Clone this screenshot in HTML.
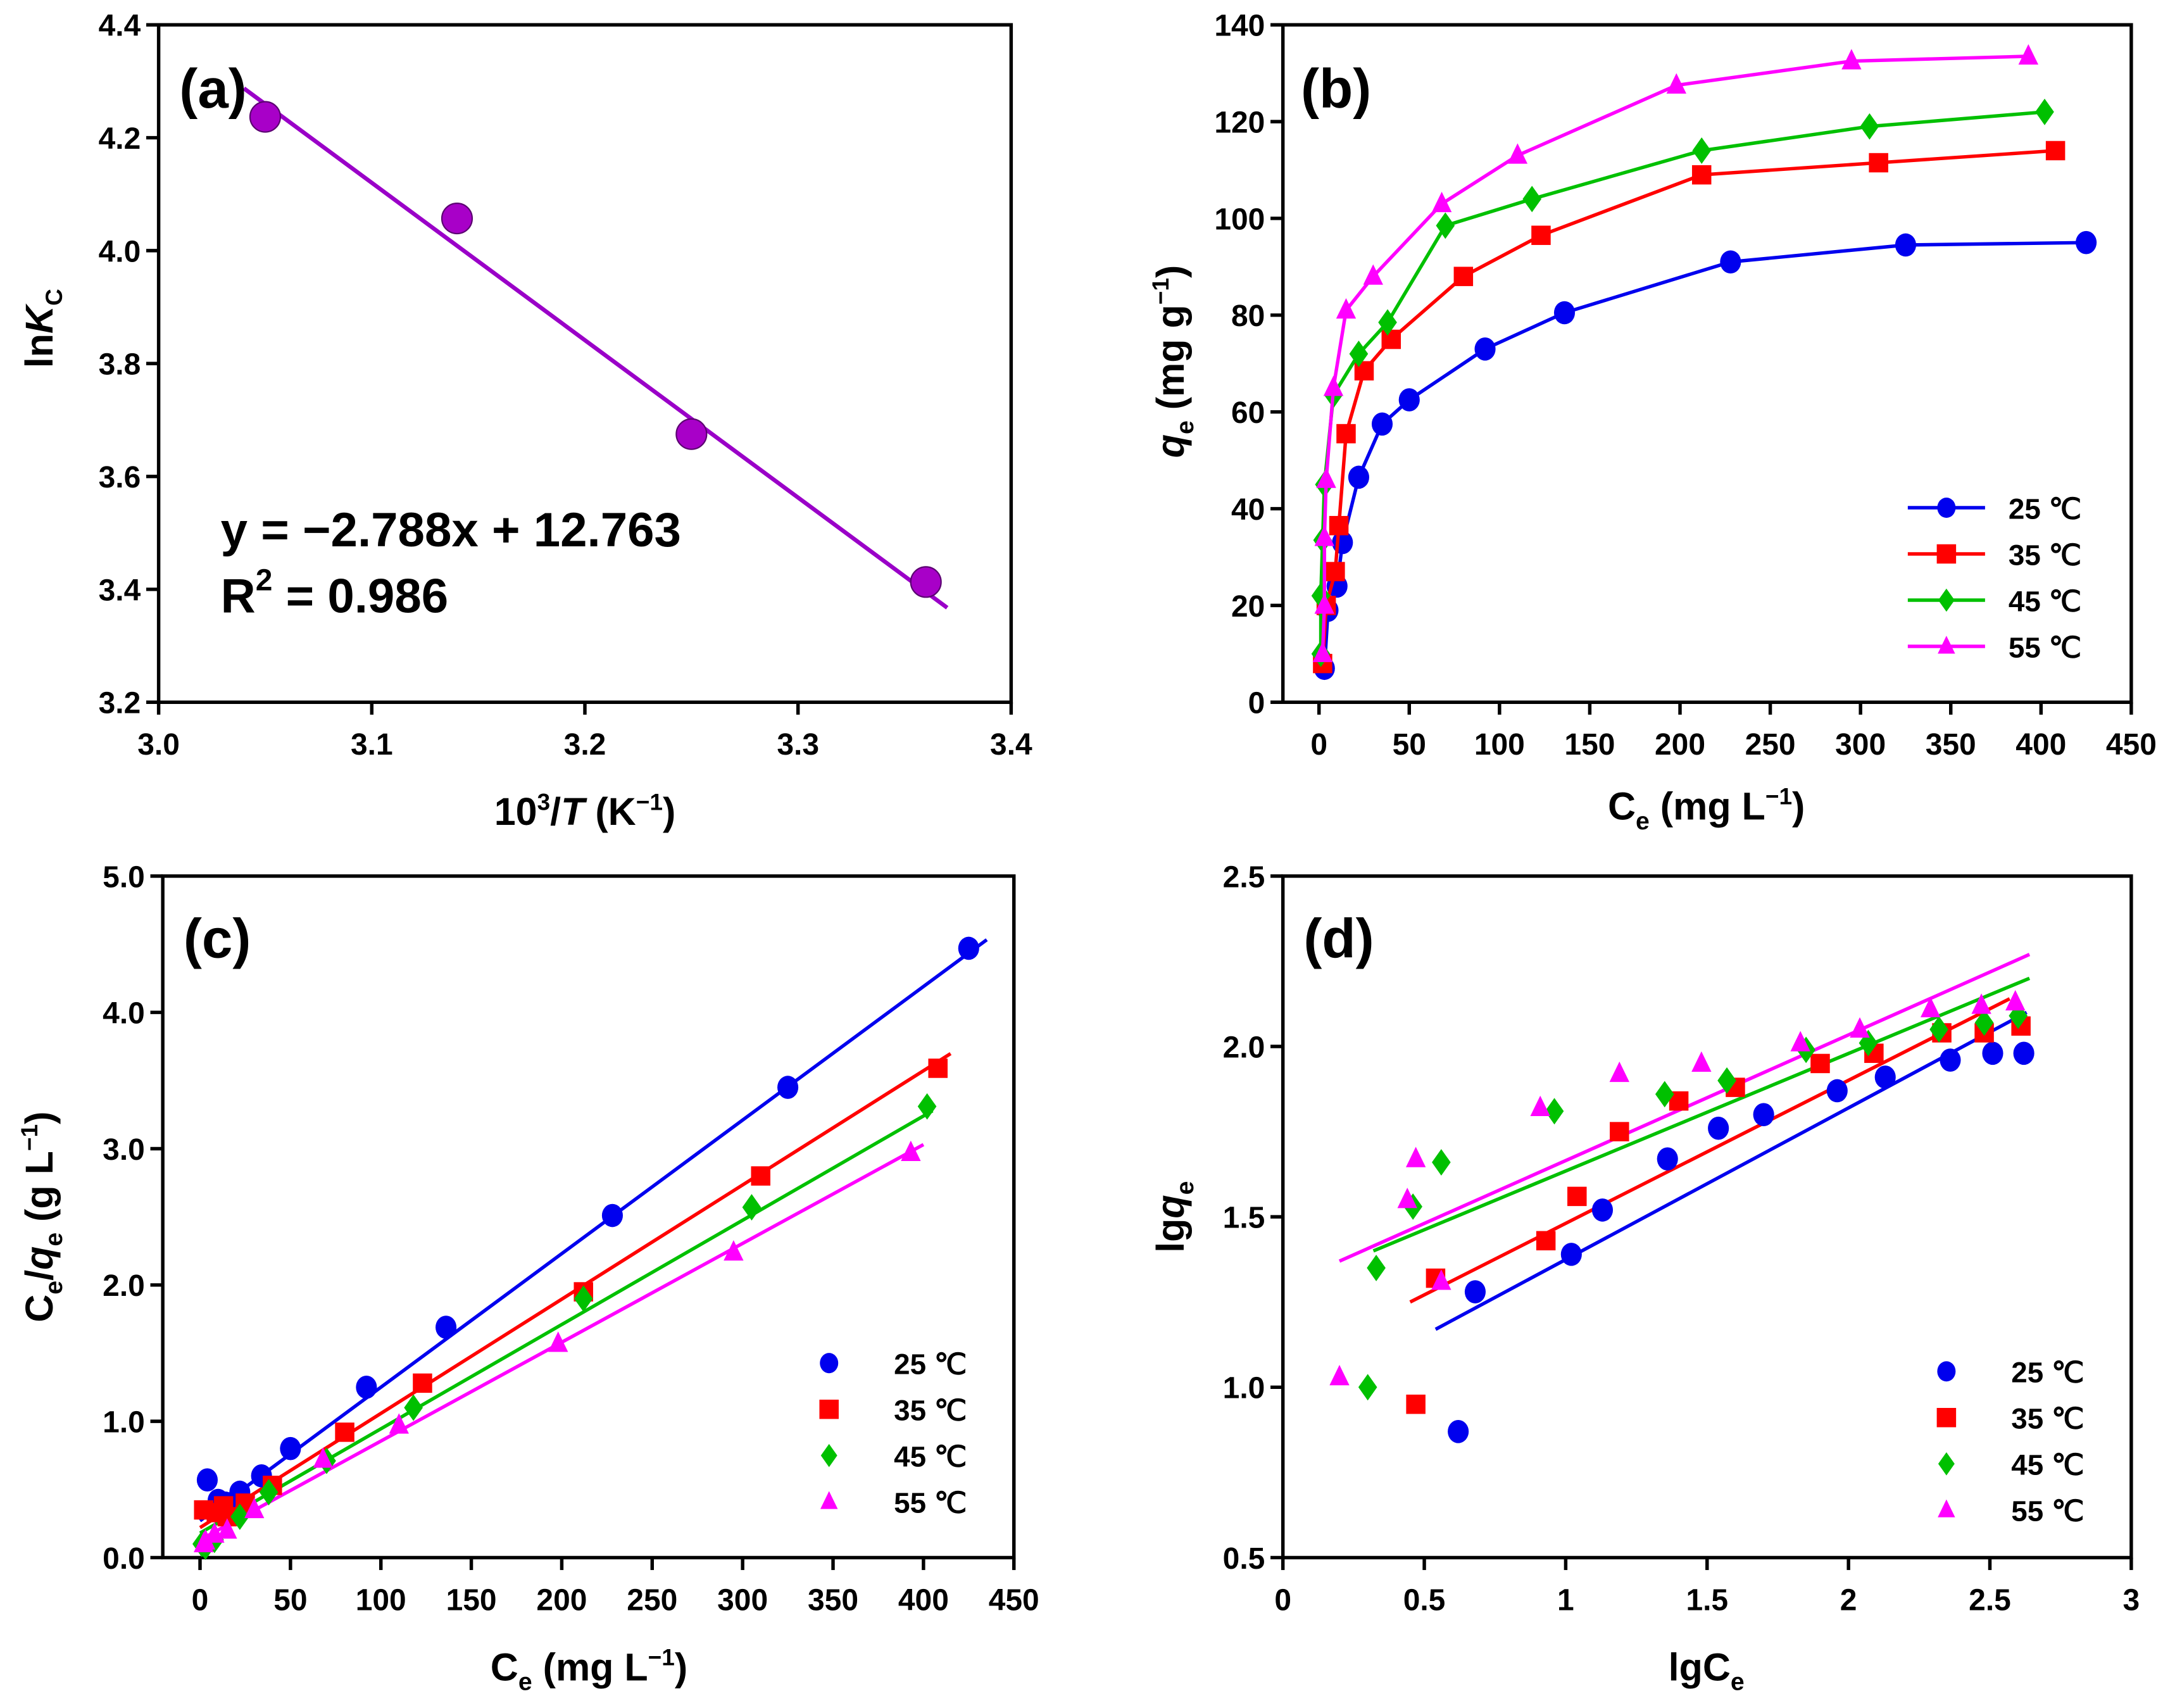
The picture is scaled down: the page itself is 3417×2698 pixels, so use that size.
<!DOCTYPE html>
<html><head><meta charset="utf-8"><style>
html,body{margin:0;padding:0;background:#fff;}
svg{display:block;font-family:"Liberation Sans",Arial,sans-serif;font-weight:bold;}
</style></head><body>
<svg id="fig" width="3417" height="2698" viewBox="0 0 1568 1238" preserveAspectRatio="none" xmlns="http://www.w3.org/2000/svg">
<rect width="1568" height="1238" fill="#fff"/>
</svg>
<script>
// ---------- Panel (a) data ----------
const aX = [3.05, 3.14, 3.25, 3.36];
const aY = [4.237, 4.057, 3.675, 3.413];
const aSlope = -2.788, aIntercept = 12.763;
const aFitRange = [3.04, 3.37];
const aXTicks = [3.0, 3.1, 3.2, 3.3, 3.4];
const aYTicks = [3.2, 3.4, 3.6, 3.8, 4.0, 4.2, 4.4];

// ---------- Panel (b) data ----------
const bX25 = [3,5,10,13,22,35,50,92,136,228,325,425];
const bY25 = [7,19,24,33,46.5,57.5,62.5,73,80.5,91,94.5,95];
const bX35 = [2,4,9,11,15,25,40,80,123,212,310,408];
const bY35 = [8,20,27,36.5,55.5,68.5,75,88,96.5,109,111.5,114];
const bX45 = [1,1,2,3,8,22,38,70,118,212,305,402];
const bY45 = [10,22,33.5,45,63.5,72,78.5,98.5,104,114,119,122];
const bX55 = [2,3,3,4,8,15,30,68,110,198,295,393];
const bY55 = [10,20,34,46,65,81,88,103,113,127.5,132.5,133.5];
const bXTicks = [0,50,100,150,200,250,300,350,400,450];
const bYTicks = [0,20,40,60,80,100,120,140];

// ---------- Panel (c) data ----------
const cX25 = [4,10,14,22,34,50,92,136,228,325,425];
const cY25 = [0.57,0.42,0.40,0.48,0.60,0.80,1.25,1.69,2.51,3.45,4.47];
const cX35 = [2,9,13,15,25,40,80,123,212,310,408];
const cY35 = [0.35,0.33,0.38,0.30,0.40,0.53,0.92,1.28,1.95,2.80,3.59];
const cX45 = [1,3,8,22,38,70,118,212,305,402];
const cY45 = [0.10,0.08,0.13,0.30,0.48,0.71,1.10,1.90,2.57,3.31];
const cX55 = [2,3,8,15,30,68,110,198,295,393];
const cY55 = [0.10,0.12,0.17,0.20,0.35,0.72,0.97,1.57,2.24,2.97];
const cSlopes = [0.0098, 0.00838, 0.00765, 0.00725];
const cIntercepts = [0.27, 0.22, 0.18, 0.13];
const cFitEnds = [435, 415, 405, 400];
const cXTicks = [0,50,100,150,200,250,300,350,400,450];
const cYTicks = [0,1,2,3,4,5];

// ---------- Panel (d) data ----------
const dX25 = [0.62,0.68,1.02,1.13,1.36,1.54,1.70,1.96,2.13,2.36,2.51,2.62];
const dY25 = [0.87,1.28,1.39,1.52,1.67,1.76,1.80,1.87,1.91,1.96,1.98,1.98];
const dX35 = [0.47,0.54,0.93,1.04,1.19,1.40,1.60,1.90,2.09,2.33,2.48,2.61];
const dY35 = [0.95,1.32,1.43,1.56,1.75,1.84,1.88,1.95,1.98,2.04,2.04,2.06];
const dX45 = [0.30,0.33,0.46,0.56,0.96,1.35,1.57,1.85,2.07,2.32,2.48,2.60];
const dY45 = [1.00,1.35,1.53,1.66,1.81,1.86,1.90,1.99,2.01,2.05,2.07,2.09];
const dX55 = [0.20,0.44,0.47,0.56,0.91,1.19,1.48,1.83,2.04,2.29,2.47,2.59];
const dY55 = [1.03,1.55,1.67,1.31,1.82,1.92,1.95,2.01,2.05,2.11,2.12,2.13];
const dFitX0 = [0.54,0.45,0.32,0.20];
const dFitY0 = [1.17,1.25,1.40,1.37];
const dFitX1 = [2.63,2.57,2.64,2.64];
const dFitY1 = [2.10,2.14,2.20,2.27];
const dXTicks = [0,0.5,1,1.5,2,2.5,3];
const dYTicks = [0.5,1.0,1.5,2.0,2.5];

const seriesNames = ['25','35','45','55'];
const colors = ['#0000ee','#ff0000','#00c000','#ff00ff'];
const shapes = ['circle','square','diamond','triangle'];

const NS = 'http://www.w3.org/2000/svg';
const svg = document.getElementById('fig');
function mk(tag, attrs, parent){
  const e = document.createElementNS(NS, tag);
  for (const k in attrs) e.setAttribute(k, attrs[k]);
  (parent||svg).appendChild(e);
  return e;
}
function scale(d0,d1,r0,r1){ return v => r0 + (v-d0)/(d1-d0)*(r1-r0); }

function axes(g, p, xt, yt, xfmt, yfmt, name){
  const fr = mk('rect',{x:p.L,y:p.T,width:p.R-p.L,height:p.B-p.T,fill:'none',stroke:'#000','stroke-width':2.5},g);
  
  
  xt.forEach(v=>{
    const x = p.sx(v);
    const t = mk('line',{x1:x,x2:x,y1:p.B,y2:p.B+9,stroke:'#000','stroke-width':2.5},g);
    
    
    const l = mk('text',{x:x,y:p.B+38,'text-anchor':'middle','font-size':22},g);
    l.textContent = xfmt(v);
    
    
  });
  yt.forEach(v=>{
    const y = p.sy(v);
    const t = mk('line',{x1:p.L-9,x2:p.L,y1:y,y2:y,stroke:'#000','stroke-width':2.5},g);
    
    
    const l = mk('text',{x:p.L-13,y:y+8,'text-anchor':'end','font-size':22},g);
    l.textContent = yfmt(v);
    
    
  });
}

function marker(g, shape, x, y, s, color, name){
  let e;
  if (shape==='circle') e = mk('ellipse',{cx:x,cy:y,rx:s*0.95,ry:s*1.05,fill:color},g);
  else if (shape==='square') e = mk('rect',{x:x-s,y:y-s,width:2*s,height:2*s,fill:color},g);
  else if (shape==='diamond') e = mk('polygon',{points:`${x},${y-s*1.2} ${x+s*0.85},${y} ${x},${y+s*1.2} ${x-s*0.85},${y}`,fill:color},g);
  else e = mk('polygon',{points:`${x},${y-s*1.1} ${x+s*0.9},${y+s*0.75} ${x-s*0.9},${y+s*0.75}`,fill:color},g);
  
  
  return e;
}

function legend(g, x0, y0, dy, withLine, name){
  seriesNames.forEach((n,i)=>{
    const y = y0 + i*dy;
    if (withLine){
      const ln = mk('line',{x1:x0-28,x2:x0+28,y1:y,y2:y,stroke:colors[i],'stroke-width':2.5},g);
      
      
      marker(g, shapes[i], x0, y, 7, colors[i], name+'-marker-'+n);
    } else {
      marker(g, shapes[i], x0, y, 7, colors[i], name+'-marker-'+n);
    }
    const t = mk('text',{x:x0+(withLine?45:47),y:y+8,'font-size':21},g);
    t.textContent = n+' \u2103';
    
    
  });
}

function textEl(g, attrs, html, name){
  const t = mk('text', attrs, g);
  t.innerHTML = html;
  
  
  return t;
}

// ===== Panel a =====
(function(){
  const g = mk('g',{});
  
  
  const p = {L:115,R:733,T:18,B:509};
  p.sx = scale(3.0,3.4,p.L,p.R); p.sy = scale(3.2,4.4,p.B,p.T);
  axes(g,p,aXTicks,aYTicks,v=>v.toFixed(1),v=>v.toFixed(1),'panel-a');
  const fl = mk('line',{x1:p.sx(aFitRange[0]),y1:p.sy(aSlope*aFitRange[0]+aIntercept),x2:p.sx(aFitRange[1]),y2:p.sy(aSlope*aFitRange[1]+aIntercept),stroke:'#9a00c8','stroke-width':3},g);
  
  
  aX.forEach((v,i)=>{
    const c = mk('circle',{cx:p.sx(v),cy:p.sy(aY[i]),r:11,fill:'#a800c8',stroke:'#5a0070','stroke-width':1},g);
    
    
  });
  textEl(g,{x:130,y:78,'font-size':40},'(a)','panel-a-label');
  textEl(g,{x:160,y:396,'font-size':35},'y = \u22122.788x + 12.763','fit-equation');
  textEl(g,{x:160,y:444,'font-size':35},'R<tspan font-size="22" dy="-16">2</tspan><tspan dy="16"> = 0.986</tspan>','r-squared');
  textEl(g,{x:424,y:598,'text-anchor':'middle','font-size':28},'10<tspan font-size="17" dy="-11">3</tspan><tspan dy="11">/</tspan><tspan font-style="italic">T</tspan> (K<tspan font-size="17" dy="-11">\u22121</tspan><tspan dy="11">)</tspan>','panel-a-x-title');
  textEl(g,{x:0,y:0,'text-anchor':'middle','font-size':28,transform:'translate(38,238) rotate(-90)'},'ln<tspan font-style="italic">K</tspan><tspan font-size="17" dy="7">C</tspan>','panel-a-y-title');
})();

// ===== Panel b =====
(function(){
  const g = mk('g',{});
  
  
  const p = {L:930,R:1545,T:18,B:509};
  p.sx = scale(-20,450,p.L,p.R); p.sy = scale(0,140,p.B,p.T);
  axes(g,p,bXTicks,bYTicks,v=>String(v),v=>String(v),'panel-b');
  const xs=[bX25,bX35,bX45,bX55], ys=[bY25,bY35,bY45,bY55];
  xs.forEach((X,si)=>{
    const pts = X.map((v,i)=>p.sx(v)+','+p.sy(ys[si][i])).join(' ');
    const pl = mk('polyline',{points:pts,fill:'none',stroke:colors[si],'stroke-width':2.5},g);
    
    
    X.forEach((v,i)=>marker(g,shapes[si],p.sx(v),p.sy(ys[si][i]),si===1?7:8,colors[si],'panel-b-point-'+seriesNames[si]));
  });
  legend(g,1411,368,33.5,true,'panel-b-legend');
  textEl(g,{x:943,y:78,'font-size':40},'(b)','panel-b-label');
  textEl(g,{x:1237,y:594,'text-anchor':'middle','font-size':28},'C<tspan font-size="18" dy="7">e</tspan><tspan dy="-7"> (mg L</tspan><tspan font-size="17" dy="-11">\u22121</tspan><tspan dy="11">)</tspan>','panel-b-x-title');
  textEl(g,{x:0,y:0,'text-anchor':'middle','font-size':28,transform:'translate(858,262) rotate(-90)'},'<tspan font-style="italic">q</tspan><tspan font-size="18" dy="7">e</tspan><tspan dy="-7"> (mg g</tspan><tspan font-size="17" dy="-11">\u22121</tspan><tspan dy="11">)</tspan>','panel-b-y-title');
})();

// ===== Panel c =====
(function(){
  const g = mk('g',{});
  
  
  const p = {L:118,R:735,T:635,B:1129};
  p.sx = scale(-20.6,450,p.L,p.R); p.sy = scale(0,5,p.B,p.T);
  axes(g,p,cXTicks,cYTicks,v=>String(v),v=>v.toFixed(1),'panel-c');
  const xs=[cX25,cX35,cX45,cX55], ys=[cY25,cY35,cY45,cY55];
  xs.forEach((X,si)=>{
    const l = mk('line',{x1:p.sx(0),y1:p.sy(cIntercepts[si]),x2:p.sx(cFitEnds[si]),y2:p.sy(cIntercepts[si]+cSlopes[si]*cFitEnds[si]),stroke:colors[si],'stroke-width':2.5},g);
    
    
  });
  xs.forEach((X,si)=>{
    X.forEach((v,i)=>marker(g,shapes[si],p.sx(v),p.sy(ys[si][i]),si===1?7:8,colors[si],'panel-c-point-'+seriesNames[si]));
  });
  legend(g,601,988,33.5,false,'panel-c-legend');
  textEl(g,{x:133,y:694,'font-size':40},'(c)','panel-c-label');
  textEl(g,{x:427,y:1218,'text-anchor':'middle','font-size':28},'C<tspan font-size="18" dy="7">e</tspan><tspan dy="-7"> (mg L</tspan><tspan font-size="17" dy="-11">\u22121</tspan><tspan dy="11">)</tspan>','panel-c-x-title');
  textEl(g,{x:0,y:0,'text-anchor':'middle','font-size':28,transform:'translate(38,882) rotate(-90)'},'C<tspan font-size="18" dy="7">e</tspan><tspan dy="-7">/</tspan><tspan font-style="italic">q</tspan><tspan font-size="18" dy="7">e</tspan><tspan dy="-7"> (g L</tspan><tspan font-size="17" dy="-11">\u22121</tspan><tspan dy="11">)</tspan>','panel-c-y-title');
})();

// ===== Panel d =====
(function(){
  const g = mk('g',{});
  
  
  const p = {L:930,R:1545,T:635,B:1129};
  p.sx = scale(0,3,p.L,p.R); p.sy = scale(0.5,2.5,p.B,p.T);
  axes(g,p,dXTicks,dYTicks,v=>String(v),v=>v.toFixed(1),'panel-d');
  const xs=[dX25,dX35,dX45,dX55], ys=[dY25,dY35,dY45,dY55];
  xs.forEach((X,si)=>{
    const l = mk('line',{x1:p.sx(dFitX0[si]),y1:p.sy(dFitY0[si]),x2:p.sx(dFitX1[si]),y2:p.sy(dFitY1[si]),stroke:colors[si],'stroke-width':2.5},g);
    
    
  });
  xs.forEach((X,si)=>{
    X.forEach((v,i)=>marker(g,shapes[si],p.sx(v),p.sy(ys[si][i]),si===1?7:8,colors[si],'panel-d-point-'+seriesNames[si]));
  });
  legend(g,1411,994,33.5,false,'panel-d-legend');
  textEl(g,{x:945,y:694,'font-size':40},'(d)','panel-d-label');
  textEl(g,{x:1237,y:1218,'text-anchor':'middle','font-size':28},'lgC<tspan font-size="18" dy="7">e</tspan>','panel-d-x-title');
  textEl(g,{x:0,y:0,'text-anchor':'middle','font-size':28,transform:'translate(858,882) rotate(-90)'},'lg<tspan font-style="italic">q</tspan><tspan font-size="18" dy="7">e</tspan>','panel-d-y-title');
})();
</script>
</body></html>
